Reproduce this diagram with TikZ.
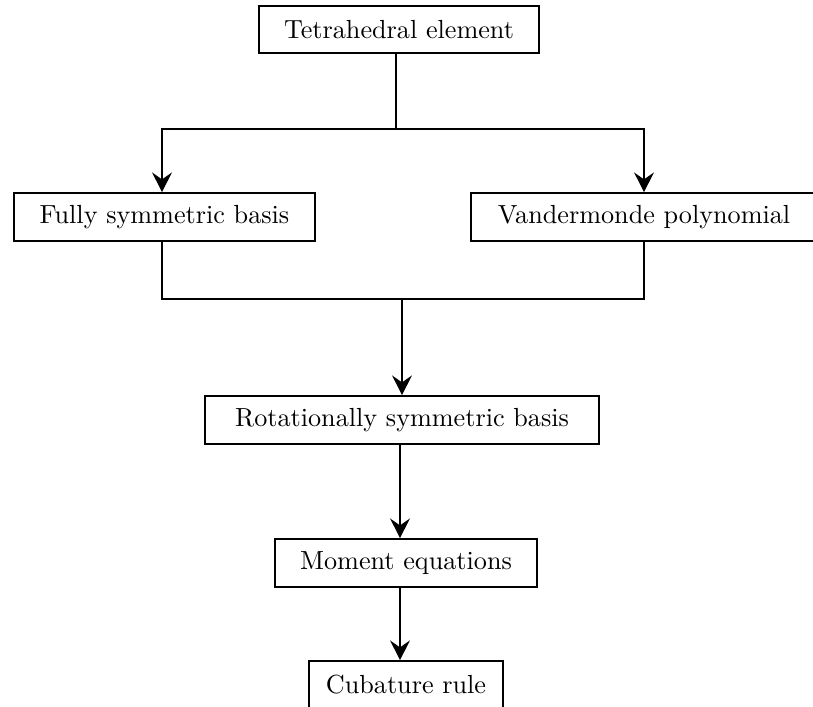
\documentclass[tikz,border=0pt]{standalone}
\usetikzlibrary{arrows.meta}
\begin{document}
\begin{tikzpicture}[x=0.382pt,y=-0.382pt,
  box/.style={draw,line width=0.75pt,inner sep=0pt,minimum height=18.2pt,font=\fontsize{10}{12}\selectfont},
  conn/.style={line width=0.75pt},
  arr/.style={conn,-{Stealth[length=7.5pt,width=7.5pt,inset=2.6pt]}}]
\useasboundingbox (0,0) rectangle (813,706);
\node[box,minimum width=107pt] (tet) at (399,29.5) {Tetrahedral element};
\node[box,minimum width=115pt] (ful) at (164.5,217) {Fully symmetric basis};
\node[box,minimum width=132pt] (van) at (644,217) {Vandermonde polynomial};
\node[box,minimum width=150.5pt] (rot) at (402,420) {Rotationally symmetric basis};
\node[box,minimum width=100pt] (mom) at (406,563) {Moment equations};
\node[box,minimum width=74pt] (cub) at (406,685) {Cubature rule};
\coordinate (j1) at (396,129);
\coordinate (j2) at (402,299);
\coordinate (sp) at (400,0);
\coordinate (fx) at (162,0);
\draw[conn] (tet.south -| j1) -- (j1);
\draw[arr] (j1) -| (ful.north -| fx);
\draw[arr] (j1) -| (van.north);
\draw[conn] (ful.south -| fx) |- (j2) -| (van.south);
\draw[arr] (j2) -- (rot.north -| j2);
\draw[arr] (rot.south -| sp) -- (mom.north -| sp);
\draw[arr] (mom.south -| sp) -- (cub.north -| sp);
\end{tikzpicture}
\end{document}
